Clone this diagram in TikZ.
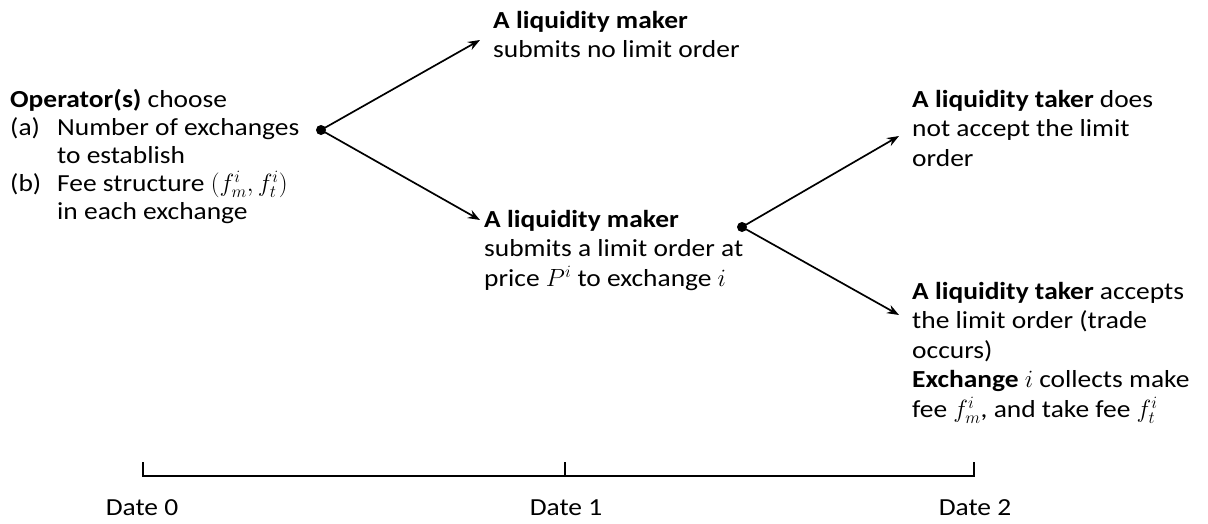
\documentclass[tikz,border=0pt]{standalone}
\usepackage{fontspec}
\setmainfont{Carlito}[FakeStretch=1.12]
\usetikzlibrary{arrows.meta}
\begin{document}
\begin{tikzpicture}[x=1pt,y=-1pt,
  txt/.style={anchor=north west, inner sep=0pt, align=left, font=\fontsize{24.5}{29.5}\selectfont},
  lefttxt/.style={txt, font=\fontsize{24.5}{28}\selectfont},
  datelbl/.style={anchor=base, inner sep=0pt, font=\fontsize{24.5}{29.5}\selectfont},
  arr/.style={line width=1.7pt, -{Stealth[length=12pt,width=9pt]}},
  dotnode/.style={circle, fill=black, inner sep=0pt, minimum size=10pt},
  axis/.style={line width=1.7pt}]
\useasboundingbox (0,0) rectangle (1208,523);

% text blocks
\node[lefttxt] (op) at (10,89) {\textbf{Operator(s)} choose\\
  \makebox[47pt][l]{(a)}Number of exchanges\\
  \hspace*{47pt}to establish\\
  \makebox[47pt][l]{(b)}Fee structure $(f_m^i,f_t^i)$\\
  \hspace*{47pt}in each exchange};

\node[txt] (mk0) at (493,11) {\textbf{A liquidity maker}\\ submits no limit order};
\node[txt] (mk1) at (484,210) {\textbf{A liquidity maker}\\ submits a limit order at\\ price $P^i$ to exchange $i$};
\node[txt] (tk0) at (912,90) {\textbf{A liquidity taker} does\\ not accept the limit\\ order};
\node[txt] (tk1) at (912,282) {\textbf{A liquidity taker} accepts\\ the limit order (trade\\ occurs)\\
  \textbf{Exchange} $i$ collects make\\ fee $f_m^i$, and take fee $f_t^i$};

% decision points
\node[dotnode] (d1) at (321,130) {};
\node[dotnode] (d2) at (742,227) {};
\coordinate (e1) at (480,40);
\coordinate (e2) at (480,220);
\coordinate (e3) at (899,136);
\coordinate (e4) at (899,315);
\draw[arr] (d1.center) -- (e1);
\draw[arr] (d1.center) -- (e2);
\draw[arr] (d2.center) -- (e3);
\draw[arr] (d2.center) -- (e4);

% timeline
\coordinate (t0) at (143,476);
\coordinate (t1) at (565,476);
\coordinate (t2) at (974,476);
\draw[axis] (t0) ++(0,-14) -- (t0) -- (t2) -- ++(0,-14);
\draw[axis] (t1) -- ++(0,-14);
\node[datelbl] (D0) at (142,515) {Date 0};
\node[datelbl] (D1) at (566,515) {Date 1};
\node[datelbl] (D2) at (975,515) {Date 2};
\end{tikzpicture}
\end{document}
